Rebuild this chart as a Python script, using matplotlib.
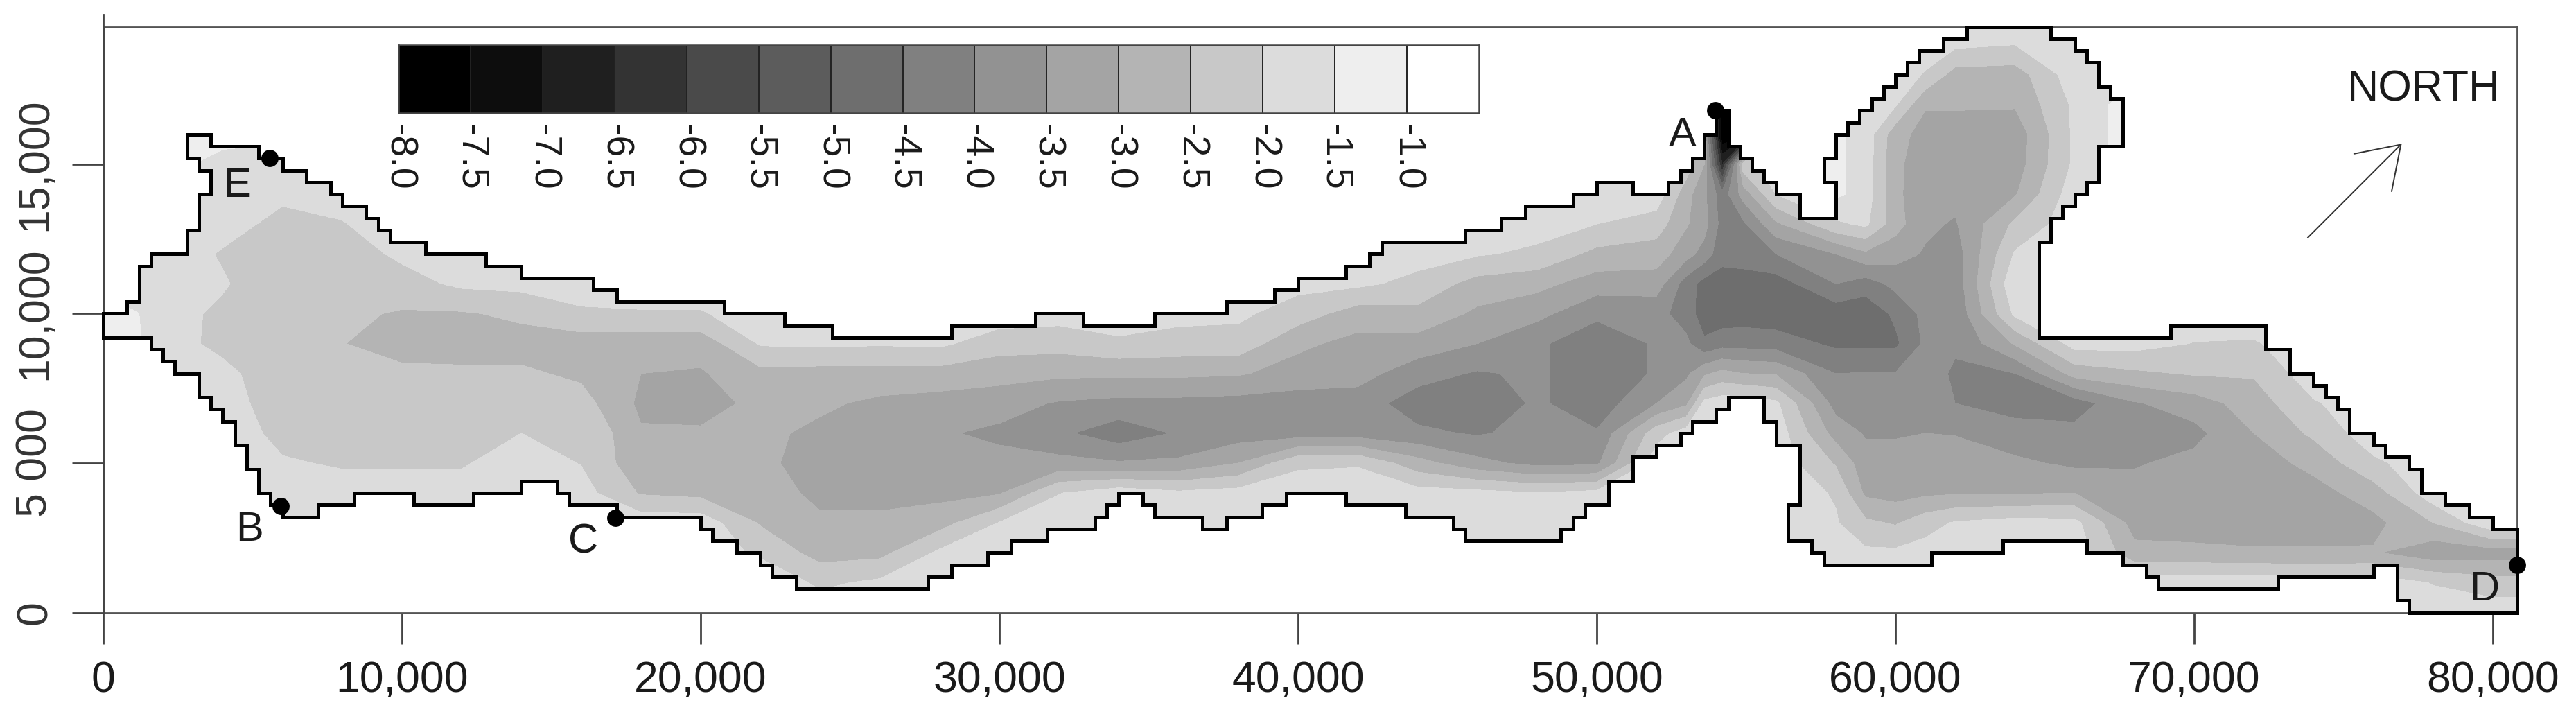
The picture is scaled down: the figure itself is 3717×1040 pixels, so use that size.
import numpy as np
import matplotlib
matplotlib.use("Agg")
import matplotlib.pyplot as plt
from matplotlib.patches import Polygon

plt.rcParams['font.family'] = ['Liberation Sans', 'DejaVu Sans']

W, H = 3717, 1040
AX_L, AX_R, AX_B, AX_T = 149.0, 3631.5, 883.5, 38.7

x_stations = [0, 2000, 4000, 6000, 8000, 10000, 12000, 14000, 16000, 18000, 20000, 22000, 24000,
              26000, 28000, 30000, 32000, 34000, 36000, 38000, 40000, 42000, 44000, 46000, 48000,
              50000, 52000, 53000, 53600, 54200, 54900, 56000, 58000, 59000, 60000, 61000, 62000, 64000, 66000,
              68000, 70000, 72000, 74000, 76000, 78000, 80000, 81000]
y_stations = list(range(0, 21000, 1000))
OUT = -1.7

# Head values read per x station, from y=0 upward; the remainder lies outside the outline
head_columns = [
 [OUT]*9 + [-1.05, -1.05],
 [OUT]*8 + [-1.75, -1.75, -1.8, -1.75, -1.7, -1.7, -1.7, -1.4, -1.4],
 [OUT]*6 + [-1.7, -1.75, -1.85, -2.15, -2.1, -1.95, -2.05, -1.8, -1.7, -1.6, -1.4],
 [OUT]*3 + [-1.6, -1.8, -1.95, -2.15, -2.3, -2.35, -2.35, -2.35, -2.35, -2.3, -2.15, -1.9, -1.7, -1.4],
 [OUT]*3 + [-1.6, -1.8, -2.05, -2.25, -2.35, -2.4, -2.49, -2.4, -2.35, -2.25, -2.03, -1.8],
 [OUT]*3 + [-1.6, -1.8, -2.05, -2.2, -2.3, -2.42, -2.65, -2.55, -2.2, -1.9],
 [OUT]*3 + [-1.6, -1.8, -2.05, -2.2, -2.3, -2.42, -2.7, -2.55, -1.9],
 [OUT]*3 + [-1.6, -1.6, -1.75, -2.0, -2.25, -2.42, -2.7, -2.4, -1.85],
 [OUT]*4 + [-1.8, -2.02, -2.0, -2.3, -2.6, -2.75, -2.1],
 [OUT]*3 + [-1.7, -2.55, -2.85, -2.95, -3.1, -3.0, -2.8, -2.05],
 [OUT]*3 + [-1.7, -2.65, -2.85, -2.95, -3.15, -3.05, -2.8, -2.05],
 [OUT, -1.6, -2.1, -2.55, -2.7, -2.85, -2.9, -2.9, -2.65, -1.95],
 [-1.7, -2.1, -2.7, -2.9, -3.15, -3.3, -3.1, -2.92, -2.7, -1.9],
 [OUT, -1.9, -2.65, -2.9, -3.15, -3.3, -3.3, -3.1, -2.7, -1.95],
 [OUT, -1.7, -1.9, -2.7, -3.15, -3.35, -3.45, -3.2, -2.7, -1.9],
 [OUT, OUT, -1.7, -1.98, -3.05, -3.35, -3.6, -3.3, -2.8, -2.3],
 [OUT]*3 + [-1.7, -2.02, -3.35, -3.9, -3.55, -2.9, -2.3, -1.8],
 [OUT]*4 + [-1.7, -3.45, -4.3, -3.65, -2.9, -2.1],
 [OUT]*3 + [-1.7, -1.9, -3.4, -3.95, -3.65, -2.9, -2.2, -1.85],
 [OUT]*3 + [-1.7, -1.8, -3.0, -3.75, -3.7, -2.95, -2.2, -1.9],
 [OUT]*4 + [-1.7, -2.1, -3.75, -3.75, -3.2, -2.9, -2.25, -1.85],
 [OUT]*4 + [-1.7, -2.05, -3.75, -3.75, -3.3, -3.15, -2.75, -1.9],
 [OUT]*3 + [-1.7, -1.8, -2.8, -3.9, -4.25, -3.8, -3.2, -2.65, -2.15, -1.8],
 [OUT]*3 + [-1.7, -1.85, -3.35, -4.05, -4.35, -4.05, -3.5, -3.1, -2.7, -1.95],
 [OUT]*3 + [-1.7, -1.98, -3.65, -3.85, -3.92, -3.92, -3.92, -3.35, -2.85, -2.1, -1.8],
 [OUT]*3 + [-1.7, -1.85, -3.6, -3.95, -4.3, -4.3, -4.3, -3.9, -3.25, -2.65, -2.0, -1.75],
 [OUT]*5 + [-1.7, -2.2, -3.5, -3.95, -3.95, -3.85, -3.25, -2.75, -2.25, -1.7],
 [OUT]*5 + [-1.7, -1.75, -3.1, -3.6, -3.9, -4.2, -4.25, -3.3, -2.95, -2.8, -2.2],
 [OUT]*6 + [-1.7, -1.85, -3.1, -4.4, -4.8, -4.7, -3.7, -3.3, -3.4, -3.0, -3.0],
 [OUT]*7 + [-1.7, -2.85, -4.2, -4.8, -4.7, -4.35, -4.2, -4.3, -6.5, -8.0, -8.0],
 [OUT]*7 + [-1.7, -3.0, -4.2, -4.75, -4.7, -4.3, -4.1, -3.3, -2.2, -8.0, -8.0],
 [OUT]*6 + [-1.7, -1.9, -3.05, -4.25, -4.8, -4.75, -4.0, -3.1, -2.0],
 [OUT, OUT, -1.8, -1.95, -2.05, -2.55, -3.2, -3.7, -4.0, -4.6, -4.8, -4.0, -3.5, -2.1, -1.4, -1.4, -1.4],
 [OUT, OUT, -1.9, -2.4, -3.1, -3.3, -3.55, -3.75, -3.98, -4.6, -4.85, -4.25, -3.1, -1.9, -1.7, -1.7, -1.7],
 [OUT, OUT, -1.9, -2.55, -3.2, -3.3, -3.55, -3.75, -3.98, -4.6, -4.4, -3.85, -3.3, -2.8, -2.9, -2.9, -2.8, -1.95],
 [OUT, OUT, -1.8, -2.2, -3.1, -3.3, -3.5, -3.75, -3.85, -3.9, -3.85, -3.8, -3.55, -3.4, -3.3, -3.25, -3.2, -2.95, -2.05],
 [OUT, OUT, OUT, -1.95, -3.05, -3.3, -3.52, -4.0, -4.05, -3.95, -3.9, -3.8, -3.75, -3.55, -3.35, -3.25, -3.2, -2.95, -2.7, -1.9],
 [OUT, OUT, OUT, -1.8, -3.05, -3.4, -3.8, -4.2, -4.0, -2.95, -1.9, -1.6, -1.95, -2.4, -3.05, -3.25, -3.3, -2.95, -2.75, -2.0, -1.75],
 [OUT, OUT, OUT, -1.85, -3.0, -3.6, -3.85, -4.25, -2.8, -1.8, OUT, OUT, OUT, OUT, OUT, -1.9, -1.9, -1.9],
 [OUT, OUT, -2.85, -3.2, -3.3, -3.55, -3.8, -3.55, -2.6, -1.8, OUT, OUT, OUT, OUT, OUT, -1.2, -1.2, -1.2],
 [OUT, OUT, -2.9, -3.2, -3.3, -3.35, -3.65, -3.25, -2.45, -2.02],
 [OUT, OUT, -2.95, -3.2, -3.3, -3.25, -3.0, -2.75, -2.45, -2.05],
 [OUT, -1.75, -2.95, -3.2, -3.2, -2.85, -2.4, -2.05],
 [OUT, OUT, -2.95, -3.15, -2.75, -2.1],
 [OUT, -2.03, -3.35, -2.5],
 [OUT, -2.3, -3.25, -1.6],
 [OUT, -2.3, -3.25, -1.6],
]

outline_vertices = [
 (0,10000),(800,10000),(800,10400),(1200,10400),(1200,11600),(1600,11600),(1600,12000),(2800,12000),(2800,12800),(3200,12800),
 (3200,14000),(3600,14000),(3600,14800),(3200,14800),(3200,15200),(2800,15200),(2800,16000),(3600,16000),(3600,15600),(5200,15600),
 (5200,15200),(6000,15200),(6000,14800),(6800,14800),(6800,14400),(7600,14400),(7600,14000),(8000,14000),(8000,13600),(8800,13600),
 (8800,13200),(9200,13200),(9200,12800),(9600,12800),(9600,12400),(10800,12400),(10800,12000),(12800,12000),(12800,11600),(14000,11600),
 (14000,11200),(16400,11200),(16400,10800),(17200,10800),(17200,10400),(20800,10400),(20800,10000),(22800,10000),(22800,9600),(24400,9600),
 (24400,9200),(28400,9200),(28400,9600),(31200,9600),(31200,10000),(32800,10000),(32800,9600),(35200,9600),(35200,10000),(37600,10000),
 (37600,10400),(39200,10400),(39200,10800),(40000,10800),(40000,11200),(41600,11200),(41600,11600),(42400,11600),(42400,12000),(42800,12000),
 (42800,12400),(45600,12400),(45600,12800),(46800,12800),(46800,13200),(47600,13200),(47600,13600),(49200,13600),(49200,14000),(50000,14000),
 (50000,14400),(51200,14400),(51200,14000),(52400,14000),(52400,14400),(52800,14400),(52800,14800),(53200,14800),(53200,15200),(53600,15200),
 (53600,16000),(54000,16000),(54000,16800),(54400,16800),(54400,15600),(54800,15600),(54800,15200),(55200,15200),(55200,14800),(55600,14800),(55600,14400),(56000,14400),
 (56000,14000),(56800,14000),(56800,13200),(58000,13200),(58000,14400),(57600,14400),(57600,15200),(58000,15200),(58000,16000),(58400,16000),
 (58400,16400),(58800,16400),(58800,16800),(59200,16800),(59200,17200),(59600,17200),(59600,17600),(60000,17600),(60000,18000),(60400,18000),
 (60400,18400),(60800,18400),(60800,18800),(61600,18800),(61600,19200),(62400,19200),(62400,19600),(65200,19600),(65200,19200),(66000,19200),
 (66000,18800),(66400,18800),(66400,18400),(66800,18400),(66800,17600),(67200,17600),(67200,17200),(67600,17200),(67600,15600),(66800,15600),
 (66800,14400),(66400,14400),(66400,14000),(66000,14000),(66000,13600),(65600,13600),(65600,13200),(65200,13200),(65200,12400),(64800,12400),
 (64800,9200),(69200,9200),(69200,9600),(72400,9600),(72400,8800),(73200,8800),(73200,8000),(74000,8000),(74000,7600),(74400,7600),
 (74400,7200),(74800,7200),(74800,6800),(75200,6800),(75200,6000),(76000,6000),(76000,5600),(76400,5600),(76400,5200),(77200,5200),
 (77200,4800),(77600,4800),(77600,4000),(78400,4000),(78400,3600),(79200,3600),(79200,3200),(80000,3200),(80000,2800),(80800,2800),
 (80800,0),(77200,0),(77200,400),(76800,400),(76800,1600),(76000,1600),(76000,1200),(72800,1200),(72800,800),(68800,800),
 (68800,1200),(68400,1200),(68400,1600),(67600,1600),(67600,2000),(66400,2000),(66400,2400),(63600,2400),(63600,2000),(61200,2000),
 (61200,1600),(57600,1600),(57600,2000),(57200,2000),(57200,2400),(56400,2400),(56400,3600),(56800,3600),(56800,5600),(56000,5600),
 (56000,6400),(55600,6400),(55600,7200),(54400,7200),(54400,6800),(54000,6800),(54000,6400),(53200,6400),(53200,6000),(52800,6000),
 (52800,5600),(52000,5600),(52000,5200),(51200,5200),(51200,4400),(50400,4400),(50400,3600),(49600,3600),(49600,3200),(49200,3200),
 (49200,2800),(48800,2800),(48800,2400),(45600,2400),(45600,2800),(45200,2800),(45200,3200),(43600,3200),(43600,3600),(41600,3600),
 (41600,4000),(39600,4000),(39600,3600),(38800,3600),(38800,3200),(37600,3200),(37600,2800),(36800,2800),(36800,3200),(35200,3200),
 (35200,3600),(34800,3600),(34800,4000),(34000,4000),(34000,3600),(33600,3600),(33600,3200),(33200,3200),(33200,2800),(31600,2800),
 (31600,2400),(30400,2400),(30400,2000),(29600,2000),(29600,1600),(28400,1600),(28400,1200),(27600,1200),(27600,800),(23200,800),
 (23200,1200),(22400,1200),(22400,1600),(22000,1600),(22000,2000),(21200,2000),(21200,2400),(20400,2400),(20400,2800),(20000,2800),
 (20000,3200),(17200,3200),(17200,3600),(15600,3600),(15600,4000),(15200,4000),(15200,4400),(14000,4400),(14000,4000),(12400,4000),
 (12400,3600),(10400,3600),(10400,4000),(8400,4000),(8400,3600),(7200,3600),(7200,3200),(6000,3200),(6000,3600),(5600,3600),
 (5600,4000),(5200,4000),(5200,4800),(4800,4800),(4800,5600),(4400,5600),(4400,6400),(4000,6400),(4000,6800),(3600,6800),
 (3600,7200),(3200,7200),(3200,8000),(2400,8000),(2400,8400),(2000,8400),(2000,8800),(1600,8800),(1600,9200),(0,9200),
]

levels = [-8.0, -7.5, -7.0, -6.5, -6.0, -5.5, -5.0, -4.5, -4.0, -3.5, -3.0, -2.5, -2.0, -1.5, -1.0, -0.5]
level_labels = ['-8.0', '-7.5', '-7.0', '-6.5', '-6.0', '-5.5', '-5.0', '-4.5', '-4.0', '-3.5', '-3.0', '-2.5', '-2.0', '-1.5', '-1.0']
grays = ['#000000', '#0d0d0d', '#1f1f1f', '#333333', '#4a4a4a', '#5c5c5c', '#6e6e6e', '#808080',
         '#929292', '#a4a4a4', '#b4b4b4', '#c8c8c8', '#dcdcdc', '#eeeeee', '#ffffff']

x_ticks = [0, 10000, 20000, 30000, 40000, 50000, 60000, 70000, 80000]
x_tick_labels = ['0', '10,000', '20,000', '30,000', '40,000', '50,000', '60,000', '70,000', '80,000']
y_ticks = [0, 5000, 10000, 15000]
y_tick_labels = ['0', '5 000', '10,000', '15,000']

site_names = ['A', 'B', 'C', 'D', 'E']
site_x = [53970, 5950, 17140, 80800, 5570]
site_y = [16810, 3550, 3170, 1590, 15200]
label_x = [52880, 4890, 16060, 79720, 4470]
label_y = [15970, 2770, 2350, 777, 14280]

north_from = (73800, 12540)
north_to = (76950, 15690)

Z = np.array([c + [OUT] * (len(y_stations) - len(c)) for c in head_columns]).T

fig = plt.figure(figsize=(W / 100, H / 100), dpi=100, facecolor='white')
ax = fig.add_axes([AX_L / W, 1 - AX_B / H, (AX_R - AX_L) / W, (AX_B - AX_T) / H])
ax.set_xlim(0, 80800)
ax.set_ylim(0, 19600)

cs = ax.contourf(x_stations, y_stations, Z, levels=levels, colors=grays)
clip = Polygon(outline_vertices, closed=True, transform=ax.transData, fc='none', ec='none')
ax.add_patch(clip)
cs.set_clip_path(clip)
ox, oy = zip(*(outline_vertices + outline_vertices[:1]))
ax.plot(ox, oy, color='black', lw=3.6, solid_joinstyle='miter', clip_on=False, zorder=5)

for s in ax.spines.values():
    s.set_color('#555555')
    s.set_linewidth(2.0)
ax.plot([0, 0], [0, 20000], color='#444444', lw=2.0, clip_on=False, zorder=4)

ax.set_xticks(x_ticks, x_tick_labels)
ax.set_yticks(y_ticks, y_tick_labels)
ax.tick_params(axis='x', length=32.5, width=2, color='#444444', labelsize=45, pad=17, labelcolor='#1a1a1a')
ax.tick_params(axis='y', length=32.5, width=2, color='#444444', labelsize=45, pad=17, labelcolor='#333333')
for t in ax.get_yticklabels():
    t.set_rotation(90)
    t.set_va('center')

ax.scatter(site_x, site_y, s=320, color='black', zorder=6, clip_on=False, linewidths=0)
for n, x, y in zip(site_names, label_x, label_y):
    ax.text(x, y, n, fontsize=43, ha='center', va='center', color='#1a1a1a', zorder=7)
ax.text(77690, 17500, 'NORTH', fontsize=45, ha='center', va='center', color='#1a1a1a')
ax.annotate('', xy=north_to, xytext=north_from,
            arrowprops=dict(arrowstyle='->,head_length=1.03,head_width=0.69', lw=1.4, color='#333333',
                            shrinkA=0, shrinkB=0, mutation_scale=40))

# Level key
CB_L, CB_R, CB_T, CB_B = 575, 2134, 65, 162.5
cax = fig.add_axes([CB_L / W, 1 - CB_B / H, (CB_R - CB_L) / W, (CB_B - CB_T) / H])
cax.set_xlim(0, 15)
cax.set_ylim(0, 1)
cax.pcolormesh(np.arange(16), [0, 1], np.arange(15).reshape(1, -1),
               cmap=matplotlib.colors.ListedColormap(grays), edgecolors='none')
cax.vlines(np.arange(1, 15), 0, 1, color='#222222', lw=1.4)
for s in cax.spines.values():
    s.set_color('#444444')
    s.set_linewidth(1.8)
cax.set_yticks([])
cax.set_xticks(np.arange(15), level_labels, rotation=270, fontsize=40, color='#1a1a1a')
cax.tick_params(axis='x', length=0, pad=12)

fig.savefig('out.png', dpi=100, facecolor='white')
